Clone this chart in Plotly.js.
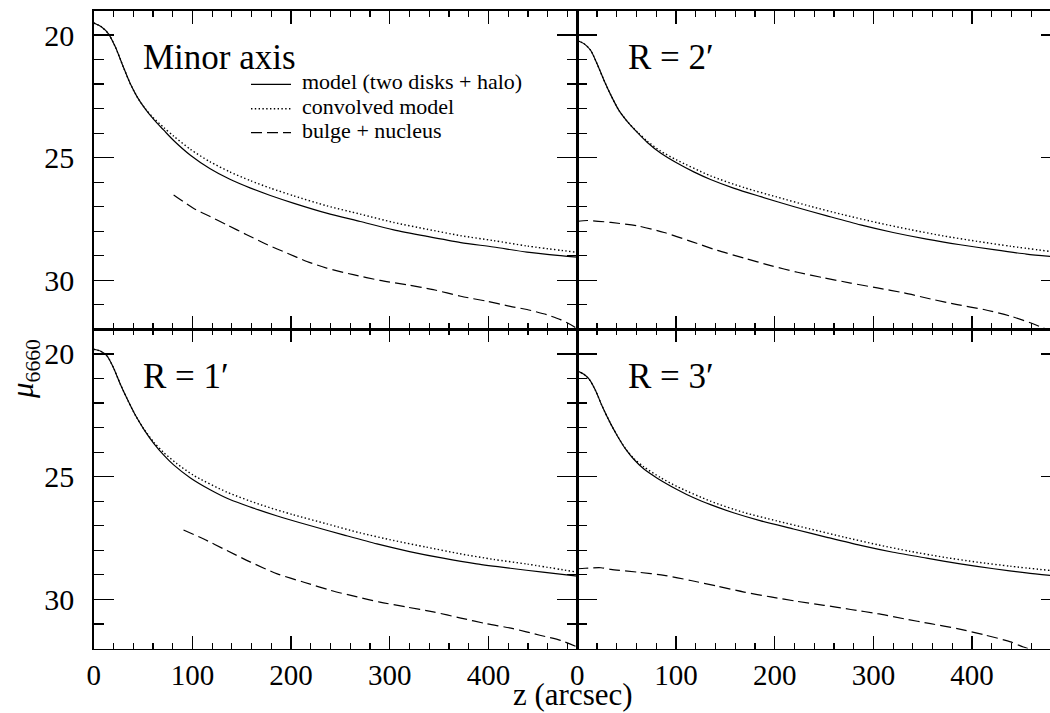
<!DOCTYPE html>
<html><head><meta charset="utf-8">
<script src="https://cdn.plot.ly/plotly-3.0.1.min.js"></script>
<style>html,body{margin:0;padding:0;overflow:hidden;background:#fff}#chart{width:1070px;height:713px}</style>
</head><body><div id="chart"></div><script>
// ---- Minor axis (top-left) ----
const zMinorModel  = [0,8,15,22,30,37,44,52,61,71,81,98,118,138,159,179,203,236,270,304,338,372,405,439,470,490];
const muMinorModel = [19.51,19.67,19.95,20.49,21.3,21.98,22.52,23.0,23.45,23.88,24.3,24.9,25.45,25.88,26.24,26.54,26.86,27.26,27.6,27.94,28.21,28.46,28.64,28.85,28.98,29.05];
const zMinorConv   = [0,8,15,22,30,37,44,52,61,71,81,98,118,138,159,179,203,236,270,304,338,372,405,439,490];
const muMinorConv  = [19.51,19.67,19.95,20.49,21.3,21.98,22.52,22.99,23.4,23.77,24.12,24.66,25.17,25.58,25.94,26.24,26.56,26.96,27.3,27.64,27.92,28.18,28.38,28.6,28.86];
const zMinorBulge  = [81,101,118,135,155,176,196,216,236,263,290,317,344,372,398,422,439,459,473,486,490];
const muMinorBulge = [26.52,27.06,27.40,27.74,28.14,28.55,28.89,29.23,29.5,29.77,30.0,30.18,30.38,30.65,30.85,31.06,31.19,31.4,31.6,31.87,31.98];

// ---- R = 2' (top-right) ----
const zR2Model  = [0,6.7,13.5,20,27,34,42,51,61,71,84,101,118,135,159,186,219,253,287,320,354,388,422,455,479];
const muR2Model = [20.22,20.35,20.62,21.17,21.84,22.45,23.06,23.54,23.98,24.38,24.8,25.22,25.58,25.89,26.25,26.59,26.99,27.37,27.74,28.05,28.32,28.55,28.75,28.93,29.02];
const zR2Conv   = [0,6.7,13.5,20,27,34,42,51,61,71,84,101,135,169,202,236,270,304,337,371,405,439,479];
const muR2Conv  = [20.22,20.35,20.62,21.17,21.84,22.45,23.06,23.54,23.96,24.33,24.72,25.1,25.74,26.22,26.6,26.98,27.33,27.65,27.93,28.19,28.41,28.61,28.82];
const zR2Bulge  = [0,10,34,61,88,115,142,169,196,223,250,277,304,331,358,385,412,439,459,472,479];
const muR2Bulge = [27.6,27.56,27.64,27.78,28.05,28.41,28.78,29.09,29.4,29.67,29.9,30.11,30.31,30.51,30.76,30.99,31.19,31.46,31.73,31.94,32.05];

// ---- R = 1' (bottom-left) ----
const zR1Model  = [0,6.7,13.5,20,27,34,42,51,61,71,81,98,118,138,159,186,219,253,287,320,354,388,422,455,490];
const muR1Model = [19.81,19.88,20.08,20.56,21.23,21.84,22.48,23.08,23.65,24.12,24.52,25.05,25.53,25.93,26.24,26.6,26.99,27.37,27.74,28.05,28.32,28.55,28.73,28.89,29.05];
const zR1Conv   = [0,6.7,13.5,20,27,34,42,51,61,71,84,101,135,169,202,236,270,304,337,371,405,439,490];
const muR1Conv  = [19.81,19.88,20.08,20.56,21.23,21.84,22.48,23.07,23.6,24.02,24.46,24.94,25.63,26.14,26.55,26.92,27.29,27.6,27.87,28.14,28.37,28.56,28.89];
const zR1Bulge  = [91,111,135,159,186,213,240,267,290,317,344,372,398,425,452,473,490];
const muR1Bulge = [27.17,27.53,28.01,28.48,28.96,29.3,29.63,29.9,30.11,30.31,30.51,30.76,30.99,31.19,31.46,31.67,31.94];

// ---- R = 3' (bottom-right) ----
const zR3Model  = [0,6.7,12,18.6,25,34,40.5,49,57,67.5,81,101,118,135,159,186,219,253,287,320,354,388,422,455,479];
const muR3Model = [20.69,20.83,21.03,21.5,22.11,22.86,23.33,23.88,24.28,24.69,25.06,25.52,25.86,26.14,26.48,26.8,27.13,27.47,27.8,28.08,28.32,28.55,28.75,28.92,29.02];
const zR3Conv   = [0,6.7,12,18.6,25,34,40.5,49,57,67.5,84,101,135,169,202,236,270,304,337,371,405,439,479];
const muR3Conv  = [20.69,20.83,21.03,21.5,22.11,22.86,23.33,23.87,24.25,24.6,25.03,25.4,26.0,26.46,26.8,27.13,27.46,27.77,28.04,28.28,28.48,28.65,28.82];
const zR3Bulge  = [0,8,24,34,61,88,115,142,169,196,223,250,277,304,331,358,385,412,439,452,459];
const muR3Bulge = [28.75,28.73,28.71,28.78,28.89,29.02,29.23,29.46,29.7,29.9,30.08,30.24,30.41,30.58,30.79,30.99,31.19,31.44,31.73,31.94,32.03];

const seriesNames = ['model (two disks + halo)', 'convolved model', 'bulge + nucleus'];
const panelLabels = ['Minor axis', 'R = 2\u2032', 'R = 1\u2032', 'R = 3\u2032'];
const xTickVals = [0,100,200,300,400];
const yTickVals = [20,25,30];
const xTitle = 'z (arcsec)';
const yTitle = '<i>\u03bc</i><sub>6660</sub>';

const W = 1070, H = 713;
const px = v => v / W, py = v => 1 - v / H;

const styles = [
  {color:'#000', width:1.2},
  {color:'#000', width:1.4, dash:'1.4px,2.4px'},
  {color:'#000', width:1.2, dash:'11px,5px'}
];

const panels = [
  {xa:'x',  ya:'y',  data:[[zMinorModel,muMinorModel],[zMinorConv,muMinorConv],[zMinorBulge,muMinorBulge]]},
  {xa:'x2', ya:'y2', data:[[zR2Model,muR2Model],[zR2Conv,muR2Conv],[zR2Bulge,muR2Bulge]]},
  {xa:'x3', ya:'y3', data:[[zR1Model,muR1Model],[zR1Conv,muR1Conv],[zR1Bulge,muR1Bulge]]},
  {xa:'x4', ya:'y4', data:[[zR3Model,muR3Model],[zR3Conv,muR3Conv],[zR3Bulge,muR3Bulge]]}
];

const traces = [];
panels.forEach(p => {
  p.data.forEach((d, i) => {
    traces.push({
      type:'scatter', mode:'lines', x:d[0], y:d[1], xaxis:p.xa, yaxis:p.ya,
      name:seriesNames[i], showlegend:false, hoverinfo:'skip',
      line:Object.assign({shape:'spline', smoothing:0.7}, styles[i])
    });
  });
});

const FONT = 'Liberation Serif';
const xL = [px(93.7), px(577.3)], xR = [px(577.3), px(1060.9)];
const yT = [py(329.4), py(10.5)], yB = [py(648.5), py(329.4)];

function xAxis(domain, anchor, labels) {
  return {domain, anchor, range:[0,490], autorange:false, tickmode:'array', tickvals:xTickVals,
    ticks:'inside', ticklen:13, tickwidth:1.3, tickcolor:'#000',
    showline:true, linecolor:'#000', linewidth:1.5, mirror:'ticks',
    showgrid:false, zeroline:false, showticklabels:labels,
    tickfont:{family:FONT, size:29, color:'#000'},
    minor:{tick0:0, dtick:20, ticks:'inside', ticklen:6, tickwidth:1.2, tickcolor:'#000', showgrid:false},
    fixedrange:true};
}
function yAxis(domain, anchor, labels) {
  return {domain, anchor, range:[32,19], autorange:false, tickmode:'array', tickvals:yTickVals,
    ticks:'inside', ticklen:20, tickwidth:1.3, tickcolor:'#000',
    showline:true, linecolor:'#000', linewidth:1.5, mirror:'ticks',
    showgrid:false, zeroline:false, showticklabels:labels, ticklabelstandoff:12,
    tickfont:{family:FONT, size:30, color:'#000'},
    minor:{tick0:0, dtick:1, ticks:'inside', ticklen:10, tickwidth:1.2, tickcolor:'#000', showgrid:false},
    fixedrange:true};
}

const ann = (text, x, y, size, extra) => Object.assign({
  text, xref:'paper', yref:'paper', x, y, xanchor:'left', yanchor:'middle',
  showarrow:false, font:{family:FONT, size, color:'#000'}}, extra || {});

const legendRows = [84.3, 108.7, 132.7];
const annotations = [
  ann(panelLabels[0], px(141), py(57.5), 35),
  ann(panelLabels[1], px(626), py(57.5), 35),
  ann(panelLabels[2], px(141), py(376.5), 35),
  ann(panelLabels[3], px(626), py(376.5), 35),
  ann(seriesNames[0], px(300), py(legendRows[0]-2.4), 22),
  ann(seriesNames[1], px(300), py(legendRows[1]-2.4), 22),
  ann(seriesNames[2], px(300), py(legendRows[2]-2.4), 22),
  ann(xTitle, px(573), py(694.5), 31, {xanchor:'center'}),
  ann(yTitle, px(25), py(369), 31, {xanchor:'center', textangle:-90})
];
const shapes = legendRows.map((r, i) => ({
  type:'line', xref:'paper', yref:'paper', x0:px(251), x1:px(291), y0:py(r), y1:py(r),
  line:Object.assign({}, styles[i])
}));

const layout = {
  width:W, height:H, margin:{l:0, r:0, t:0, b:0},
  paper_bgcolor:'#fff', plot_bgcolor:'#fff', showlegend:false,
  xaxis:xAxis(xL,'y',false), yaxis:yAxis(yT,'x',true),
  xaxis2:xAxis(xR,'y2',false), yaxis2:yAxis(yT,'x2',false),
  xaxis3:xAxis(xL,'y3',true), yaxis3:yAxis(yB,'x3',true),
  xaxis4:xAxis(xR,'y4',true), yaxis4:yAxis(yB,'x4',false),
  annotations, shapes
};

Plotly.newPlot('chart', traces, layout, {staticPlot:true, displayModeBar:false});
</script></body></html>
